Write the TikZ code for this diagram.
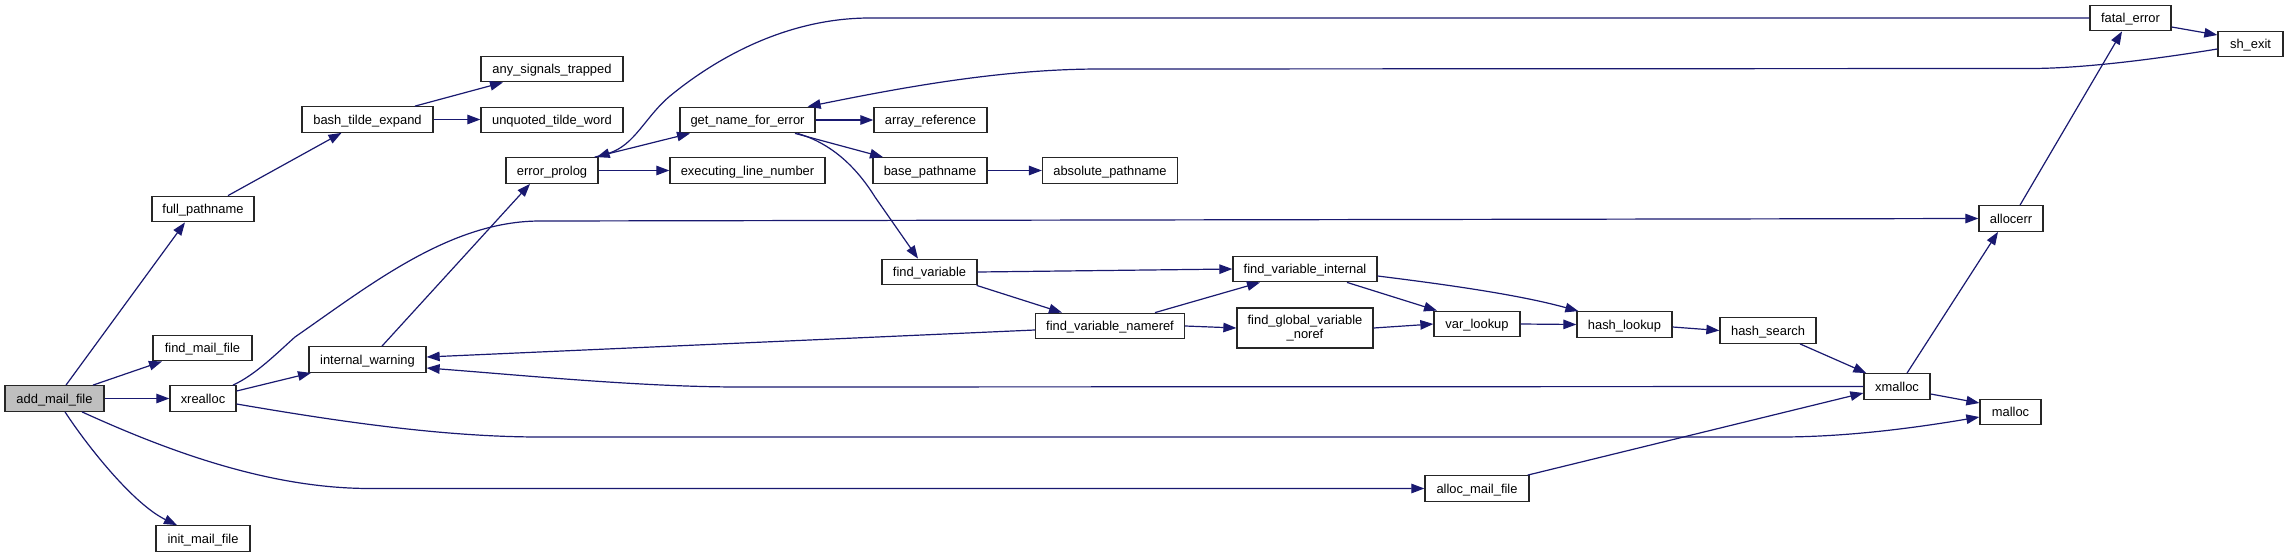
\documentclass[tikz,border=0pt]{standalone}
\usepackage{fontspec}
\setmainfont{Liberation Sans}
\usetikzlibrary{arrows.meta,calc}
\definecolor{edgeblue}{HTML}{191970}
\definecolor{rootgray}{HTML}{BFBFBF}
\tikzset{
  fnbox/.style={draw=black!85, line width=1.3pt, fill=white, inner sep=0pt,
    minimum height=25.5pt, font=\fontsize{12.9}{14.7}\selectfont},
  fnone/.style={fnbox, text height=10.7pt, text depth=1.3pt},
  callarrow/.style={draw=edgeblue, line width=1.2pt,
    -{Triangle[length=13pt,width=9.5pt]}},
}
\begin{document}
\begin{tikzpicture}[x=1pt,y=-1pt]
\useasboundingbox (0,0) rectangle (2288,557);
\fill[white] (0,0) rectangle (2288,557);
% nodes
\node[fnone, fill=rootgray, minimum width=99pt] (add) at (54.5,398.5) {add\_mail\_file};
\node[fnone, minimum width=102pt] (fullpath) at (203,209) {full\_pathname};
\node[fnone, minimum width=99pt] (findmail) at (202.5,348) {find\_mail\_file};
\node[fnone, minimum width=66pt] (xrealloc) at (203,398.5) {xrealloc};
\node[fnone, minimum width=94pt] (initmail) at (203,538.5) {init\_mail\_file};
\node[fnone, minimum width=131pt] (bte) at (367.5,119.5) {bash\_tilde\_expand};
\node[fnone, minimum width=117pt] (iw) at (367.5,359.5) {internal\_warning};
\node[fnone, minimum width=142pt] (ast) at (552,69) {any\_signals\_trapped};
\node[fnone, minimum width=142pt] (utw) at (552,120) {unquoted\_tilde\_word};
\node[fnone, minimum width=92pt] (ep) at (552,170.5) {error\_prolog};
\node[fnone, minimum width=135pt] (gnfe) at (747.5,120) {get\_name\_for\_error};
\node[fnone, minimum width=155pt] (eln) at (747.5,170.5) {executing\_line\_number};
\node[fnone, minimum width=113pt] (ar) at (930.5,120) {array\_reference};
\node[fnone, minimum width=114pt] (bp) at (930,170.5) {base\_pathname};
\node[fnone, minimum width=95pt] (fv) at (929.5,272) {find\_variable};
\node[fnone, minimum width=135pt] (ap) at (1110,170.5) {absolute\_pathname};
\node[fnone, minimum width=149pt] (fvn) at (1110,326) {find\_variable\_nameref};
\node[fnone, minimum width=144pt] (fvi) at (1305,269) {find\_variable\_internal};
\node[fnbox, minimum width=136pt, minimum height=40pt, align=center] (fgvn) at (1305,328) {find\_global\_variable\\\_noref};
\node[fnone, minimum width=86pt] (vl) at (1477,324) {var\_lookup};
\node[fnone, minimum width=104pt] (al) at (1477,488.5) {alloc\_mail\_file};
\node[fnone, minimum width=95pt] (hl) at (1624.5,324.5) {hash\_lookup};
\node[fnone, minimum width=96pt] (hs) at (1768,330.5) {hash\_search};
\node[fnone, minimum width=66pt] (xm) at (1897,386.5) {xmalloc};
\node[fnone, minimum width=61pt] (malloc) at (2010.5,412) {malloc};
\node[fnone, minimum width=64pt] (allocerr) at (2011,218.5) {allocerr};
\node[fnone, minimum width=81pt] (fe) at (2130.5,18) {fatal\_error};
\node[fnone, minimum width=65pt] (sh) at (2250.5,44) {sh\_exit};
% edges
\draw[callarrow] ($(add.north)+(11.5,0)$) -- ($(fullpath.south)+(-18,0)$);
\draw[callarrow] ($(add.north)+(38.5,0)$) -- ($(findmail.south)+(-40.5,0)$);
\draw[callarrow] (add.east) -- (xrealloc.west);
\draw[callarrow] ($(add.south)+(10.5,0)$) .. controls (90,450) and (135,505) .. ($(initmail.north)+(-26,0)$);
\draw[callarrow] ($(add.south)+(27.5,0)$) .. controls (170,452) and (270,488.5) .. (370,488.5) -- (al.west);
\draw[callarrow] ($(fullpath.north)+(25,0)$) -- ($(bte.south)+(-26,0)$);
\draw[callarrow] ($(bte.north)+(47.5,0)$) -- ($(ast.south)+(-49,0)$);
\draw[callarrow] (bte.east) -- (bte.east -| utw.west);
\draw[callarrow] ($(xrealloc.east)+(0,-7.5)$) -- ($(iw.south)+(-56.5,0)$);
\draw[callarrow] ($(xrealloc.north)+(30,0)$) .. controls (255,375) and (275,355) .. (295,337) .. controls (370,285) and (450,221) .. (540,221) -- (allocerr.west);
\draw[callarrow] ($(xrealloc.east)+(0,5.5)$) .. controls (330,420) and (440,437) .. (540,437) -- (1780,437) .. controls (1850,437) and (1920,427) .. ($(malloc.west)+(0,5)$);
\draw[callarrow] ($(iw.north)+(14.5,0)$) -- ($(ep.south)+(-22,0)$);
\draw[callarrow] ($(ep.north east)+(-4,0)$) -- ($(gnfe.south)+(-57.5,0)$);
\draw[callarrow] (ep.east) -- (eln.west);
\draw[callarrow] (fe.west) -- (870,18) .. controls (790,18) and (720,55) .. (670,96) .. controls (645,117) and (635,145) .. ($(ep.north east)+(-2,0)$);
\draw[callarrow] ($(sh.west)+(0,5)$) .. controls (2150,60) and (2080,68.5) .. (2030,68.5) -- (1100,69) .. controls (1000,69) and (900,88) .. ($(gnfe.north east)+(-8,0)$);
\draw[callarrow] (gnfe.east) -- (ar.west);
\draw[callarrow] ($(gnfe.south)+(47.5,0)$) -- ($(bp.north)+(-47,0)$);
\draw[callarrow] ($(gnfe.south)+(50,0)$) .. controls (830,143) and (855,165) .. (875,197) -- ($(fv.north)+(-11.5,0)$);
\draw[callarrow] (bp.east) -- (ap.west);
\draw[callarrow] (fv.east) -- (fvi.west);
\draw[callarrow] ($(fv.south east)+(-1,0)$) -- ($(fvn.north)+(-48,0)$);
\draw[callarrow] ($(fvn.north)+(45,0)$) -- ($(fvi.south)+(-45,0)$);
\draw[callarrow] (fvn.east) -- (fgvn.west);
\draw[callarrow] ($(fvn.west)+(0,4)$) -- ($(iw.east)+(0,-2.5)$);
\draw[callarrow] (xm.west) -- (740,387) .. controls (640,387) and (520,375) .. ($(iw.east)+(0,8.5)$);
\draw[callarrow] ($(fvi.south)+(42,0)$) -- ($(vl.north)+(-40,0)$);
\draw[callarrow] ($(fvi.east)+(0,7)$) .. controls (1450,285) and (1520,295) .. ($(hl.north west)+(2,0)$);
\draw[callarrow] (fgvn.east) -- (vl.west);
\draw[callarrow] (vl.east) -- (hl.west);
\draw[callarrow] ($(hl.east)+(0,2.5)$) -- (hs.west);
\draw[callarrow] ($(hs.south)+(32,0)$) -- ($(xm.north west)+(3,0)$);
\draw[callarrow] ($(xm.north)+(10,0)$) -- ($(allocerr.south)+(-13,0)$);
\draw[callarrow] ($(xm.east)+(0,7.5)$) -- ($(malloc.west)+(0,-9)$);
\draw[callarrow] ($(al.north east)+(-2,0)$) -- ($(xm.west)+(0,6.5)$);
\draw[callarrow] ($(allocerr.north)+(9,0)$) -- ($(fe.south)+(-8.5,0)$);
\draw[callarrow] ($(fe.east)+(0,9)$) -- ($(sh.west)+(0,-9)$);
\end{tikzpicture}
\end{document}
